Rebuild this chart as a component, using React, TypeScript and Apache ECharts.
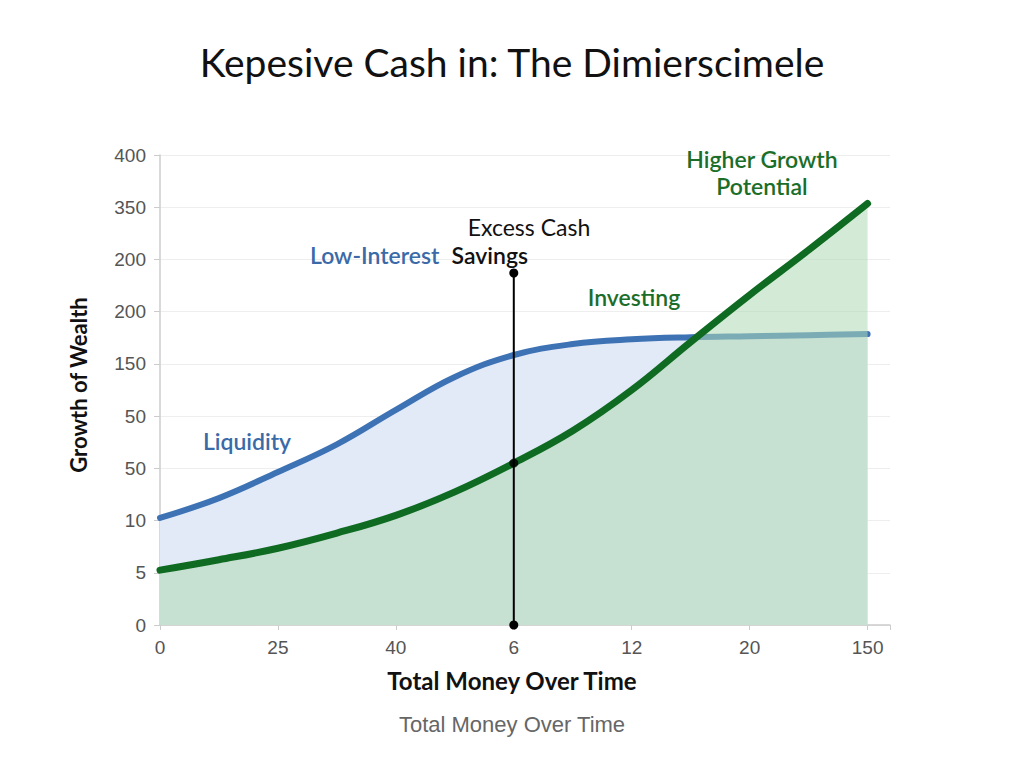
import React, { useEffect, useRef } from "react";
import * as echarts from "echarts";

const xTickLabels = ["0", "25", "40", "6", "12", "20", "150"];
const yTickLabels = ["0", "5", "10", "50", "50", "150", "200", "200", "350", "400"];

const curveX = [0, 0.5, 1, 1.5, 2, 2.5, 3, 3.5, 4, 4.5, 5, 5.5, 6];
const savingsY = [2.05, 2.43, 2.93, 3.46, 4.12, 4.75, 5.17, 5.38, 5.47, 5.51, 5.53, 5.55, 5.57];
const investingY = [1.05, 1.25, 1.47, 1.76, 2.1, 2.55, 3.1, 3.72, 4.5, 5.42, 6.32, 7.18, 8.07];

const excessCashX = 3;
const excessCashTop = 6.74;
const excessCashMid = 3.1;

export default function App() {
  const ref = useRef<HTMLDivElement>(null);
  useEffect(() => {
    document.body.style.margin = "0";
    const chart = echarts.init(ref.current!, null, { renderer: "svg" });
    const blue = "#3d72b4";
    const green = "#0f6b22";
    const labelFont = "Lato, 'Open Sans', sans-serif";
    const tickFont = "'Liberation Sans', Arial, sans-serif";
    chart.setOption({
      animation: false,
      backgroundColor: "#ffffff",
      title: {
        text: "Kepesive Cash in: The Dimierscimele",
        left: "center",
        top: 37,
        textStyle: { fontFamily: labelFont, fontSize: 39, fontWeight: "normal", color: "#111" },
      },
      grid: { left: 160, right: 134, top: 155, bottom: 143 },
      xAxis: {
        type: "value",
        min: 0,
        max: 6.19,
        interval: 1,
        axisLine: { show: true, lineStyle: { color: "#cccccc", width: 1.5 } },
        axisTick: { show: true, length: 5, lineStyle: { color: "#cccccc" } },
        splitLine: { show: false },
        axisLabel: {
          margin: 13,
          fontSize: 19,
          color: "#555",
          fontFamily: tickFont,
          formatter: (v: number) => (Number.isInteger(v) ? xTickLabels[v] ?? "" : ""),
        },
      },
      yAxis: {
        type: "value",
        min: 0,
        max: 9,
        interval: 1,
        axisLine: { show: true, lineStyle: { color: "#cccccc", width: 1.5 } },
        axisTick: { show: true, length: 6, lineStyle: { color: "#cccccc" } },
        splitLine: { show: true, lineStyle: { color: "#eeeeee", width: 1 } },
        axisLabel: {
          margin: 14,
          fontSize: 19,
          color: "#555",
          fontFamily: tickFont,
          formatter: (v: number) => (Number.isInteger(v) ? yTickLabels[v] ?? "" : ""),
        },
      },
      series: [
        {
          type: "line",
          name: "Low-Interest Savings",
          data: curveX.map((x, i) => [x, savingsY[i]]),
          smooth: 0.4,
          showSymbol: false,
          lineStyle: { color: blue, width: 6, cap: "round" },
          areaStyle: { color: "#e2e9f7", opacity: 1 },
          z: 2,
        },
        {
          type: "line",
          name: "Investing",
          data: curveX.map((x, i) => [x, investingY[i]]),
          smooth: 0.4,
          showSymbol: false,
          lineStyle: { color: green, width: 7, cap: "round" },
          areaStyle: { color: "rgba(175, 218, 180, 0.55)", opacity: 1 },
          z: 3,
        },
        {
          type: "line",
          name: "Excess Cash",
          data: [
            [excessCashX, 0],
            [excessCashX, excessCashTop],
          ],
          symbol: "circle",
          symbolSize: 9,
          showSymbol: true,
          itemStyle: { color: "#000" },
          lineStyle: { color: "#000", width: 2 },
          z: 5,
        },
        {
          type: "scatter",
          data: [[excessCashX, excessCashMid]],
          symbolSize: 9,
          itemStyle: { color: "#000" },
          z: 6,
        },
      ],
      graphic: [
        {
          type: "text",
          z: 100,
          x: 529,
          y: 227,
          style: { text: "Excess Cash", fontFamily: labelFont, fontSize: 23, fill: "#111", align: "center", verticalAlign: "middle" },
        },
        {
          type: "text",
          z: 100,
          x: 310,
          y: 255,
          style: { text: "Low-Interest", fontFamily: labelFont, fontSize: 23, fontWeight: 600, fill: "#3a6aa8", align: "left", verticalAlign: "middle" },
        },
        {
          type: "text",
          z: 100,
          x: 528,
          y: 255,
          style: { text: "Savings", fontFamily: labelFont, fontSize: 23, fontWeight: 600, fill: "#111", align: "right", verticalAlign: "middle" },
        },
        {
          type: "text",
          z: 100,
          x: 634,
          y: 297,
          style: { text: "Investing", fontFamily: labelFont, fontSize: 23, fontWeight: 600, fill: "#1b6e2a", align: "center", verticalAlign: "middle" },
        },
        {
          type: "text",
          z: 100,
          x: 762,
          y: 172,
          style: {
            text: "Higher Growth\nPotential",
            fontFamily: labelFont,
            fontSize: 23,
            fontWeight: 600,
            lineHeight: 27,
            fill: "#1b6e2a",
            align: "center",
            verticalAlign: "middle",
          },
        },
        {
          type: "text",
          z: 100,
          x: 247,
          y: 441,
          style: { text: "Liquidity", fontFamily: labelFont, fontSize: 23, fontWeight: 600, fill: "#3a6aa8", align: "center", verticalAlign: "middle" },
        },
        {
          type: "text",
          z: 100,
          x: 78,
          y: 385,
          rotation: Math.PI / 2,
          style: { text: "Growth of Wealth", fontFamily: labelFont, fontSize: 22, fontWeight: "bold", fill: "#111", align: "center", verticalAlign: "middle" },
        },
        {
          type: "text",
          z: 100,
          x: 512,
          y: 680,
          style: { text: "Total Money Over Time", fontFamily: labelFont, fontSize: 24, fontWeight: "bold", fill: "#111", align: "center", verticalAlign: "middle" },
        },
        {
          type: "text",
          z: 100,
          x: 512,
          y: 724,
          style: { text: "Total Money Over Time", fontFamily: tickFont, fontSize: 22, fill: "#666", align: "center", verticalAlign: "middle" },
        },
      ],
    });
    return () => chart.dispose();
  }, []);
  return <div ref={ref} style={{ width: 1024, height: 768 }} />;
}
